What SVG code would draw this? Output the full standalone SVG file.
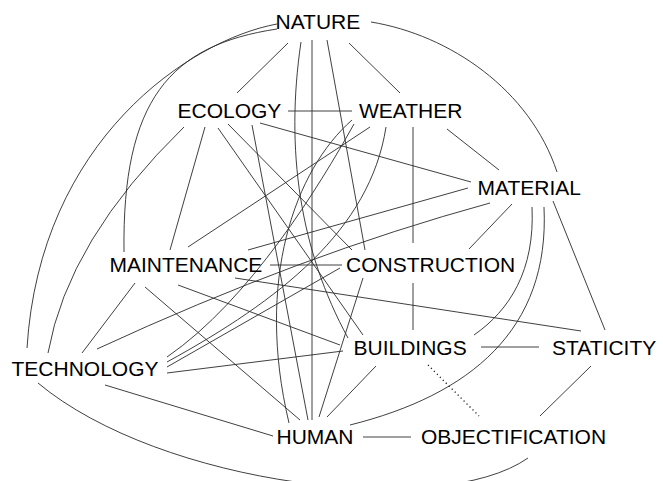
<svg xmlns="http://www.w3.org/2000/svg" width="663" height="481" viewBox="0 0 663 481">
  <style>
    .bg { fill: #ffffff; }
    .lbl { font-family: "Liberation Sans", Arial, sans-serif; font-size: 21px; fill: #000000; }
    .e { fill: none; stroke: #2a2a2a; stroke-width: 0.9; }
    .dot { fill: none; stroke: #1a1a1a; stroke-width: 1.3; stroke-dasharray: 1.2 3; }
  </style>
  <rect class="bg" x="0" y="0" width="663" height="481"/>

  <g id="connectors">
    <!-- NATURE -->
    <path class="e" d="M288,43 L237,93"/>
    <path class="e" d="M349,43 L400,93"/>
    <path class="e" d="M277,24 C190,40 40,140 27,348"/>
    <path class="e" d="M277,29 C170,45 122,100 124,252"/>
    <path class="e" d="M371,22 C450,35 530,90 557,172"/>
    <path class="e" d="M312,40 L312,420"/>
    <path class="e" d="M327,40 L365,250"/>
    <path class="e" d="M301,42 C285,150 300,250 348,338"/>
    <!-- ECOLOGY -->
    <path class="e" d="M288,111 L352,111"/>
    <path class="e" d="M184,127 Q68,240 48,353"/>
    <path class="e" d="M205,127 L170,250"/>
    <path class="e" d="M218,128 L363,335"/>
    <path class="e" d="M228,124 L352,250"/>
    <path class="e" d="M252,125 L308,420"/>
    <path class="e" d="M260,123 L471,182"/>
    <!-- WEATHER -->
    <path class="e" d="M447,129 L499,170"/>
    <path class="e" d="M413,127 L413,243"/>
    <path class="e" d="M370,127 L188,247"/>
    <path class="e" d="M352,120 C295,170 255,280 289,423"/>
    <path class="e" d="M386,127 C370,230 280,300 167,362"/>
    <path class="e" d="M354,124 C320,185 250,300 167,357"/>
    <!-- MAINTENANCE -->
    <path class="e" d="M270,265 L342,265"/>
    <path class="e" d="M135,283 L82,353"/>
    <path class="e" d="M145,287 L300,420"/>
    <path class="e" d="M178,285 L340,345"/>
    <path class="e" d="M235,278 L581,331"/>
    <path class="e" d="M248,250 L468,188"/>
    <!-- MATERIAL -->
    <path class="e" d="M490,203 Q300,255 97,349"/>
    <path class="e" d="M512,204 L469,249"/>
    <path class="e" d="M553,201 L605,330"/>
    <path class="e" d="M532,207 C535,270 510,310 474,335"/>
    <path class="e" d="M544,207 C550,330 470,395 350,425"/>
    <!-- CONSTRUCTION -->
    <path class="e" d="M413,283 L413,330"/>
    <path class="e" d="M363,278 L319,417"/>
    <path class="e" d="M340,268 L167,367"/>
    <!-- BUILDINGS -->
    <path class="e" d="M481,347 L539,347"/>
    <path class="dot" d="M428,365 L479,416"/>
    <path class="e" d="M376,366 L327,417"/>
    <path class="e" d="M343,351 L167,373"/>
    <!-- STATICITY / HUMAN / TECHNOLOGY -->
    <path class="e" d="M591,366 L540,416"/>
    <path class="e" d="M363,437 L411,437"/>
    <path class="e" d="M273,436 L105,385"/>
    <path class="e" d="M38,383 C160,485 440,520 528,458"/>
  </g>

  <g id="nature"><text class="lbl" x="275.5" y="29">NATURE</text></g>
  <g id="ecology"><text class="lbl" x="177.5" y="118">ECOLOGY</text></g>
  <g id="weather"><text class="lbl" x="359" y="118">WEATHER</text></g>
  <g id="material"><text class="lbl" x="477.5" y="195">MATERIAL</text></g>
  <g id="maintenance"><text class="lbl" x="109.5" y="272">MAINTENANCE</text></g>
  <g id="construction"><text class="lbl" x="346" y="272">CONSTRUCTION</text></g>
  <g id="buildings"><text class="lbl" x="353.5" y="355">BUILDINGS</text></g>
  <g id="staticity"><text class="lbl" x="552" y="355">STATICITY</text></g>
  <g id="technology"><text class="lbl" x="11.5" y="376">TECHNOLOGY</text></g>
  <g id="human"><text class="lbl" x="276.5" y="444">HUMAN</text></g>
  <g id="objectification"><text class="lbl" x="421" y="444">OBJECTIFICATION</text></g>
</svg>
